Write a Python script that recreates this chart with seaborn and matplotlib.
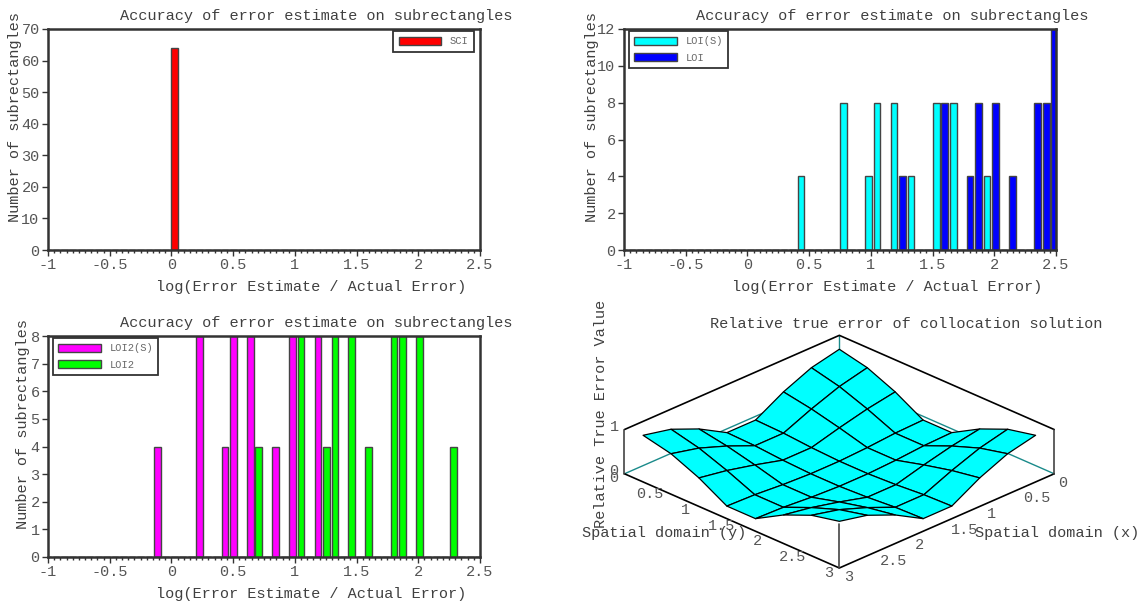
import numpy as np
import pandas as pd
import seaborn as sns
import matplotlib.pyplot as plt

sns.set_theme(style="white")
plt.rcParams["font.family"] = ["Liberation Mono", "DejaVu Sans Mono"]
plt.rcParams["text.color"] = "#404040"
plt.rcParams["axes.labelcolor"] = "#404040"

# histogram bars: bin centres (log ratio) and counts
sci_pos = [0.023]
sci_cnt = [64]

loi_s_pos = [0.434, 0.777, 0.985, 1.050, 1.187, 1.325, 1.530, 1.668, 1.941]
loi_s_cnt = [4, 8, 4, 8, 8, 4, 8, 8, 4]
loi_pos = [1.258, 1.597, 1.806, 1.873, 2.011, 2.149, 2.354, 2.422, 2.489]
loi_cnt = [4, 8, 4, 8, 8, 4, 8, 8, 12]

loi2_s_pos = [-0.112, 0.230, 0.434, 0.504, 0.641, 0.846, 0.981, 1.186]
loi2_s_cnt = [4, 8, 4, 8, 8, 4, 8, 8]
loi2_pos = [0.708, 1.051, 1.255, 1.324, 1.462, 1.597, 1.803, 1.874, 2.011, 2.284]
loi2_cnt = [4, 8, 4, 8, 8, 4, 8, 8, 8, 4]

xticks = [-1, -0.5, 0, 0.5, 1, 1.5, 2, 2.5]

# surface: grid positions and relative error on the 8x8 subrectangles
grid_pos = [0.13, 0.52, 0.91, 1.30, 1.70, 2.09, 2.48, 2.87]
err = [
    [0.87, 0.73, 0.46, 0.10, 0.10, 0.46, 0.73, 0.87],
    [0.73, 0.58, 0.35, 0.08, 0.08, 0.35, 0.58, 0.73],
    [0.46, 0.35, 0.20, 0.03, 0.03, 0.20, 0.35, 0.46],
    [0.10, 0.08, 0.03, 0.00, 0.00, 0.03, 0.08, 0.10],
    [0.10, 0.08, 0.03, 0.00, 0.00, 0.03, 0.08, 0.10],
    [0.46, 0.35, 0.20, 0.03, 0.03, 0.20, 0.35, 0.46],
    [0.73, 0.58, 0.35, 0.08, 0.08, 0.35, 0.58, 0.73],
    [0.87, 0.73, 0.46, 0.10, 0.10, 0.46, 0.73, 0.87],
]
tick3d = [0, 0.5, 1, 1.5, 2, 2.5, 3]

# bin layout shared by all histograms
bw = 0.0685
b_lo = 0.434 - bw / 2 - 21 * bw
b_hi = b_lo + 53 * bw

fig = plt.figure(figsize=(11.39, 6.04), dpi=100)
W, H = 1139, 604


def px_axes(l, t, r, b, **kw):
    return fig.add_axes([l / W, 1 - b / H, (r - l) / W, (b - t) / H], **kw)


def style_hist(ax, ymax, ystep, ylab_x, legend_loc, anchor):
    ax.set_xlim(-1, 2.5)
    ax.set_ylim(0, ymax)
    ax.set_xticks(xticks)
    ax.set_xticklabels([f"{t:g}" for t in xticks])
    ax.set_yticks(np.arange(0, ymax + 0.1, ystep))
    ax.set_xticks(np.arange(-1, 2.51, 0.05), minor=True)
    ax.tick_params(axis="both", which="major", direction="out", length=4, width=1,
                   color="#333333", labelcolor="#555555", labelsize=11, pad=2,
                   bottom=True, left=True)
    ax.tick_params(axis="x", which="minor", direction="out", length=2, width=1,
                   color="#333333", bottom=True)
    for s in ax.spines.values():
        s.set_color("#333333")
        s.set_linewidth(1.8)
    ax.set_xlabel("log(Error Estimate / Actual Error)", fontsize=11)
    ax.xaxis.set_label_coords(0.61, -0.135)
    ax.set_ylabel("Number of subrectangles", fontsize=11)
    ax.yaxis.set_label_coords(ylab_x, 0.6)
    ax.text(0.62, 1.06, "Accuracy of error estimate on subrectangles",
            transform=ax.transAxes, ha="center", va="center", fontsize=11)
    leg = ax.legend(loc=legend_loc, bbox_to_anchor=anchor, borderaxespad=0,
                    fancybox=False, edgecolor="#333333", fontsize=7.5,
                    handlelength=4.1, handleheight=0.8, framealpha=1,
                    borderpad=0.5, labelspacing=0.6)
    leg.get_frame().set_linewidth(1.3)
    for t in leg.get_texts():
        t.set_color("#666666")


def bars(ax, pos, cnt, color, label):
    df = pd.DataFrame({"pos": pos, "cnt": cnt})
    sns.histplot(data=df, x="pos", weights="cnt", binwidth=bw,
                 binrange=(b_lo, b_hi), color=color, alpha=1,
                 edgecolor="#444444", linewidth=1, shrink=0.8, label=label, ax=ax)


# bottom right: 3d surface (square axes so nothing gets clipped)
ax4 = px_axes(541.5, 169.5, 1121.5, 749.5, projection="3d",
              proj_type="ortho", computed_zorder=False)
ax4.view_init(elev=26, azim=45)
ax4.set_xlim(0, 3)
ax4.set_ylim(0, 3)
ax4.set_zlim(0, 1)
ax4.set_box_aspect((1, 1, 0.162), zoom=0.724)
ax4.set_axis_off()

X, Y = np.meshgrid(grid_pos, grid_pos, indexing="ij")
Z = np.array(err)
ax4.plot_surface(X, Y, Z, color="#00FFFF", edgecolor="black", linewidth=0.9,
                 shade=False, antialiased=True, zorder=2)

lo, hi = 0, 3
teal = "#1a8a8a"
ax4.plot([hi, lo, lo], [lo, lo, hi], [0, 0, 0], color=teal, lw=1, zorder=1)
ax4.plot([lo, lo], [lo, lo], [0, 1], color=teal, lw=1, zorder=1)
ax4.plot([hi, lo, lo], [lo, lo, hi], [1, 1, 1], color="black", lw=1.2, zorder=3)
ax4.plot([hi, hi, lo], [lo, hi, hi], [0, 0, 0], color="black", lw=1.2, zorder=3)
for cx, cy in [(hi, lo), (lo, hi), (hi, hi)]:
    ax4.plot([cx, cx], [cy, cy], [0, 1], color="#444444", lw=1.2, zorder=3)

for t in tick3d:
    ax4.text(hi + 0.15, t, 0, f"{t:g}", ha="center", va="center", fontsize=11,
             color="#555555", zorder=4)
    ax4.text(t, hi + 0.06, 0, f"{t:g}", ha="left", va="top", fontsize=11,
             color="#555555", zorder=4)
for t in [0, 1]:
    ax4.text(hi, lo - 0.08, t, f"{t:g}", ha="right", va="center", fontsize=11,
             color="#555555", zorder=4)

# top left: SCI
ax1 = px_axes(48, 29, 480, 250)
bars(ax1, sci_pos, sci_cnt, "#FF0000", "SCI")
style_hist(ax1, 70, 10, -0.061, "upper right", (0.985, 0.99))

# top right: LOI(S), LOI
ax2 = px_axes(624, 29, 1056, 250)
bars(ax2, loi_s_pos, loi_s_cnt, "#00FFFF", "LOI(S)")
bars(ax2, loi_pos, loi_cnt, "#0000FF", "LOI")
style_hist(ax2, 12, 2, -0.057, "upper left", (0.012, 0.99))

# bottom left: LOI2(S), LOI2
ax3 = px_axes(48, 336, 480, 557)
bars(ax3, loi2_s_pos, loi2_s_cnt, "#FF00FF", "LOI2(S)")
bars(ax3, loi2_pos, loi2_cnt, "#00FF00", "LOI2")
style_hist(ax3, 8, 1, -0.041, "upper left", (0.012, 0.99))

fig.text(906 / W, 1 - 324 / H, "Relative true error of collocation solution",
         ha="center", va="center", fontsize=11)
fig.text(582 / W, 1 - 533 / H, "Spatial domain (y)", ha="left", va="center",
         fontsize=11)
fig.text(975 / W, 1 - 533 / H, "Spatial domain (x)", ha="left", va="center",
         fontsize=11)
fig.text(601 / W, 1 - 414 / H, "Relative True Error Value", ha="center",
         va="center", rotation=90, fontsize=11)

fig.savefig("out.png", dpi=100)
